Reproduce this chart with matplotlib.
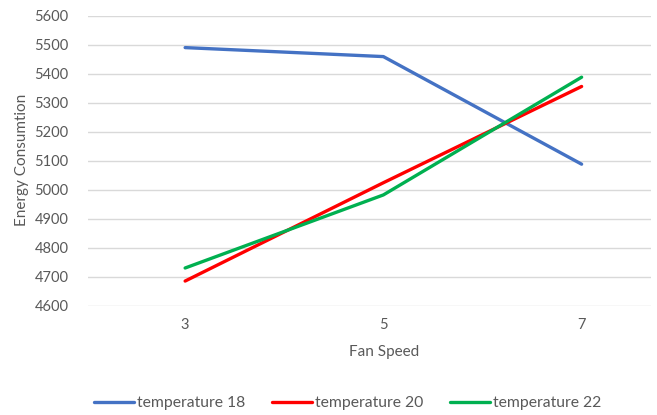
import matplotlib
matplotlib.use("Agg")
import matplotlib.pyplot as plt

categories = ["3", "5", "7"]
series_names = ["temperature 18", "temperature 20", "temperature 22"]
temp18 = [5490, 5459, 5088]
temp20 = [4685, 5024, 5356]
temp22 = [4730, 4982, 5388]
yticks = [4600, 4700, 4800, 4900, 5000, 5100, 5200, 5300, 5400, 5500, 5600]
colors = ["#4472C4", "#FF0000", "#00B050"]

plt.rcParams['font.family'] = ['Lato', 'DejaVu Sans']
fig = plt.figure(figsize=(6.57, 4.15), dpi=100)
ax = fig.add_axes([88/657, 1-305.7/415, (651-88)/657, (305.7-15.7)/415])

x = list(range(len(categories)))
for vals, name, c in zip([temp18, temp20, temp22], series_names, colors):
    ax.plot(x, vals, color=c, lw=2.4, solid_capstyle='round', solid_joinstyle='round', label=name)

ax.set_ylim(4600, 5600)
ax.set_yticks(yticks)
ax.set_xlim(-0.49, 2.35)
ax.set_xticks(x)
ax.set_xticklabels(categories)
ax.grid(axis='y', color='#D9D9D9', lw=1)
ax.set_axisbelow(True)
for s in ax.spines.values():
    s.set_visible(False)
ax.tick_params(axis='both', length=0, colors='#595959', labelsize=10.5)
ax.tick_params(axis='y', pad=14)
ax.tick_params(axis='x', pad=9)

fig.text(22/657, 1-160/415, "Energy Consumtion", rotation=90, ha='center', va='center', color='#595959', fontsize=11)
fig.text(384/657, 1-352/415, "Fan Speed", ha='center', va='center', color='#595959', fontsize=11)

leg = fig.legend(loc='center', bbox_to_anchor=(347.5/657, 1-403/415), ncol=3, frameon=False,
                 fontsize=11.3, handlelength=2.55, handletextpad=0.2, columnspacing=1.7)
for t in leg.get_texts():
    t.set_color('#595959')

fig.savefig("out.png", dpi=100)
